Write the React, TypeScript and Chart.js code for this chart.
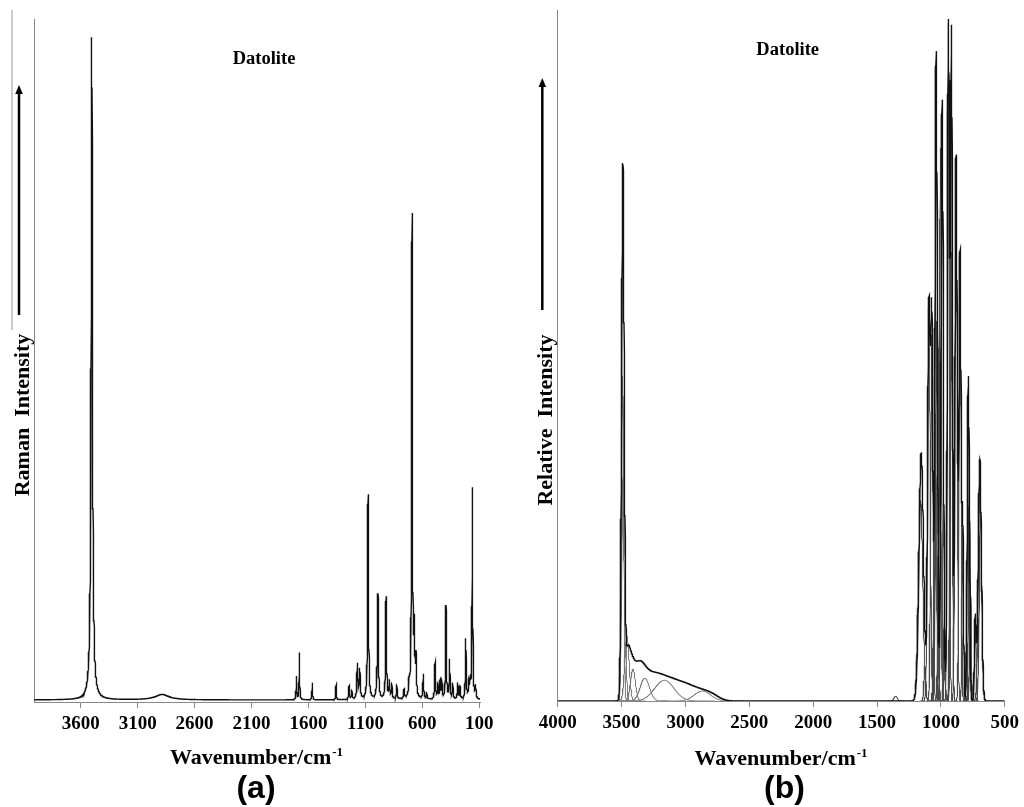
import React, { useEffect, useRef } from "react";
import { Chart, registerables } from "chart.js";

Chart.register(...registerables);

// ---------- tick labels ----------
const RAMAN_TICKS = [3600, 3100, 2600, 2100, 1600, 1100, 600, 100];
const IR_TICKS = [4000, 3500, 3000, 2500, 2000, 1500, 1000, 500];

// ---------- (a) Raman bands: centre (cm-1), height (% of full scale), FWHM (cm-1) ----------
const RAMAN_CENTERS = [3503, 2886, 1706, 1680, 1567, 1358, 1244, 1220, 1171, 1150, 1077, 1001, 990, 919, 890, 869, 825, 761, 717, 691, 671, 656, 592, 563, 489, 465, 445, 430, 393, 361, 334, 290, 270, 219, 192, 180, 161, 133];
const RAMAN_HEIGHTS = [97, 0.8, 3.4, 6.9, 2.5, 2.2, 2.0, 1.3, 5.1, 4.3, 30.0, 2.0, 15.2, 15.0, 2.5, 2.2, 2.1, 1.3, 1.8, 70.6, 9.5, 5.4, 3.6, 1.0, 5.4, 2.2, 2.6, 2.7, 13.7, 5.7, 2.2, 2.3, 1.8, 8.8, 2.3, 2.4, 30.9, 1.8];
const RAMAN_WIDTHS = [14, 150, 6, 6, 6, 6, 8, 8, 10, 10, 9, 8, 9, 9, 8, 8, 8, 8, 8, 8, 10, 8, 8, 8, 8, 8, 8, 8, 8, 8, 8, 8, 8, 8, 8, 8, 7, 8];
const RAMAN_BASELINE = 0.3;

// ---------- (b) Infrared spectrum (envelope) bands ----------
const IR_ENV_CENTERS = [3490, 3458, 3440, 3370, 3300, 3200, 3100, 3000, 2900, 2800, 1154, 1094, 1071, 1037, 990, 941, 917, 881, 850, 829, 785, 731, 695];
const IR_ENV_HEIGHTS = [76, 2.5, 5.2, 3.9, 3.0, 2.7, 2.2, 1.8, 1.25, 0.95, 36, 57, 53, 94, 87, 98, 96, 79, 65, 25, 47, 12, 35];
const IR_ENV_WIDTHS = [24, 40, 71, 106, 141, 141, 141, 141, 141, 141, 42, 24, 20, 22, 22, 20, 18, 22, 20, 14, 20, 16, 30];

// ---------- (b) fitted band components ----------
const IR_COMP_CENTERS = [3492, 3486, 3458, 3411, 3318, 3165, 2867, 1354, 1159, 1125, 1094, 1071, 1045, 1037, 1032, 1011, 1003, 990, 972, 941, 920, 917, 881, 850, 829, 804, 785, 777, 769, 731, 695, 689];
const IR_COMP_HEIGHTS = [47, 33, 9.4, 4.6, 3.3, 3.0, 1.45, 0.7, 29, 5, 57, 53, 40, 94, 55, 57, 80, 87, 13, 98, 65, 96, 79, 65, 25, 7, 47, 31, 19, 12, 35, 27];
const IR_COMP_WIDTHS = [20, 30, 40, 45, 85, 180, 150, 30, 40, 18, 24, 20, 22, 20, 22, 20, 18, 20, 14, 18, 20, 16, 20, 18, 14, 12, 18, 16, 14, 14, 28, 24];

const SERIF = '"Liberation Serif", "Times New Roman", serif';
const SANS = '"Liberation Sans", Arial, sans-serif';

function lorentz(x: number, c: number, h: number, w: number) {
  const g = w / 2;
  return (h * g * g) / ((x - c) * (x - c) + g * g);
}
function gauss(x: number, c: number, h: number, w: number) {
  return h * Math.exp((-4 * Math.LN2 * (x - c) * (x - c)) / (w * w));
}

function buildRaman() {
  const pts: { x: number; y: number }[] = [];
  for (let x = 94; x <= 4010; x += 1) {
    let y = RAMAN_BASELINE;
    for (let i = 0; i < RAMAN_CENTERS.length; i++) y += lorentz(x, RAMAN_CENTERS[i], RAMAN_HEIGHTS[i], RAMAN_WIDTHS[i]);
    pts.push({ x, y });
  }
  return pts;
}
function buildEnvelope() {
  const pts: { x: number; y: number }[] = [];
  for (let x = 500; x <= 4000; x += 1) {
    let y = 0;
    for (let i = 0; i < IR_ENV_CENTERS.length; i++) y += gauss(x, IR_ENV_CENTERS[i], IR_ENV_HEIGHTS[i], IR_ENV_WIDTHS[i]);
    pts.push({ x, y });
  }
  return pts;
}
function buildComponent(i: number) {
  const c = IR_COMP_CENTERS[i];
  const w = IR_COMP_WIDTHS[i];
  const pts: { x: number; y: number }[] = [];
  const lo = Math.max(500, Math.floor(c - 2.2 * w));
  const hi = Math.min(4000, Math.ceil(c + 2.2 * w));
  for (let x = lo; x <= hi; x += 1) pts.push({ x, y: gauss(x, c, IR_COMP_HEIGHTS[i], w) });
  return pts;
}

type Decor = {
  yTitle: string; yTitleX: number; yTitleY: number;
  arrowX: number; arrowTip: number; arrowBottom: number;
  title: string; titleX: number; titleY: number;
  xTitleX: number; xTitleY: number;
  tag: string; tagX: number; tagY: number;
  edgeLine?: { x: number; y1: number; y2: number };
};

function makeDecor(p: Decor) {
  return {
    id: "decor",
    afterDraw(chart: any) {
      const ctx: CanvasRenderingContext2D = chart.ctx;
      ctx.save();
      ctx.fillStyle = "#000";
      ctx.strokeStyle = "#000";
      if (p.edgeLine) {
        ctx.save();
        ctx.strokeStyle = "#999";
        ctx.lineWidth = 1;
        ctx.beginPath();
        ctx.moveTo(p.edgeLine.x + 0.5, p.edgeLine.y1);
        ctx.lineTo(p.edgeLine.x + 0.5, p.edgeLine.y2);
        ctx.stroke();
        ctx.restore();
      }
      // rotated y title
      ctx.save();
      ctx.translate(p.yTitleX, p.yTitleY);
      ctx.rotate(-Math.PI / 2);
      ctx.font = `bold 22px ${SERIF}`;
      ctx.textAlign = "center";
      ctx.textBaseline = "alphabetic";
      ctx.fillText(p.yTitle, 0, 0);
      ctx.restore();
      // arrow
      ctx.lineWidth = 2.5;
      ctx.beginPath();
      ctx.moveTo(p.arrowX, p.arrowBottom);
      ctx.lineTo(p.arrowX, p.arrowTip + 6);
      ctx.stroke();
      ctx.beginPath();
      ctx.moveTo(p.arrowX, p.arrowTip);
      ctx.lineTo(p.arrowX - 3.8, p.arrowTip + 9);
      ctx.lineTo(p.arrowX + 3.8, p.arrowTip + 9);
      ctx.closePath();
      ctx.fill();
      // sample name
      ctx.font = `bold 18.5px ${SERIF}`;
      ctx.textAlign = "center";
      ctx.textBaseline = "alphabetic";
      ctx.fillText(p.title, p.titleX, p.titleY);
      // x title with superscript
      ctx.font = `bold 22px ${SERIF}`;
      const main = "Wavenumber/cm";
      const sup = "-1";
      const wMain = ctx.measureText(main).width;
      ctx.font = `bold 13px ${SERIF}`;
      const wSup = ctx.measureText(sup).width;
      const left = p.xTitleX - (wMain + wSup + 1) / 2;
      ctx.textAlign = "left";
      ctx.font = `bold 22px ${SERIF}`;
      ctx.fillText(main, left, p.xTitleY);
      ctx.font = `bold 13px ${SERIF}`;
      ctx.fillText(sup, left + wMain + 1, p.xTitleY - 8);
      // panel tag
      ctx.font = `bold 32px ${SANS}`;
      ctx.textAlign = "center";
      ctx.fillText(p.tag, p.tagX, p.tagY);
      ctx.restore();
    },
  };
}

function axisOptions(min: number, max: number, ticks: number[]) {
  return {
    x: {
      type: "linear" as const,
      min,
      max,
      reverse: true,
      afterBuildTicks: (s: any) => {
        s.ticks = ticks.map((v) => ({ value: v }));
      },
      ticks: {
        autoSkip: false,
        maxRotation: 0,
        minRotation: 0,
        padding: 5,
        color: "#000",
        font: { family: SERIF, size: 19, weight: "bold" as const },
        callback: (v: any) => String(v),
      },
      grid: { display: true, drawOnChartArea: false, drawTicks: true, tickLength: 6, color: "#888", lineWidth: 1 },
      border: { display: true, color: "#888", width: 1 },
    },
    y: {
      type: "linear" as const,
      min: 0,
      max: 100,
      ticks: { display: false },
      grid: { display: false, drawTicks: false, tickLength: 0 },
      border: { display: true, color: "#888", width: 1 },
    },
  };
}

function PanelA() {
  const ref = useRef<HTMLCanvasElement | null>(null);
  useEffect(() => {
    if (!ref.current) return;
    const chart = new Chart(ref.current, {
      type: "line",
      data: {
        datasets: [
          {
            data: buildRaman(),
            borderColor: "#111",
            borderWidth: 1.4,
            pointRadius: 0,
            tension: 0,
            fill: false,
          },
        ],
      },
      options: {
        animation: false,
        responsive: false,
        devicePixelRatio: 1,
        events: [],
        parsing: false,
        normalized: true,
        layout: { padding: { left: 34, right: 20, top: 19, bottom: 66.2 } },
        plugins: { legend: { display: false }, tooltip: { enabled: false }, title: { display: false } },
        scales: axisOptions(94, 4010, RAMAN_TICKS) as any,
      },
      plugins: [
        makeDecor({
          yTitle: "Raman  Intensity", yTitleX: 28.5, yTitleY: 415,
          arrowX: 19, arrowTip: 85, arrowBottom: 315,
          title: "Datolite", titleX: 264, titleY: 64,
          xTitleX: 256.5, xTitleY: 764,
          tag: "(a)", tagX: 256, tagY: 798,
          edgeLine: { x: 11.5, y1: 10, y2: 330 },
        }),
      ],
    } as any);
    return () => chart.destroy();
  }, []);
  return (
    <canvas
      ref={ref}
      width={500}
      height={807}
      style={{ position: "absolute", left: 0, top: 0, width: 500, height: 807 }}
    />
  );
}

function PanelB() {
  const ref = useRef<HTMLCanvasElement | null>(null);
  useEffect(() => {
    if (!ref.current) return;
    const datasets: any[] = [
      {
        data: buildEnvelope(),
        borderColor: "#111",
        borderWidth: 1.4,
        pointRadius: 0,
        tension: 0,
        fill: false,
        order: 0,
      },
    ];
    for (let i = 0; i < IR_COMP_CENTERS.length; i++) {
      datasets.push({
        data: buildComponent(i),
        borderColor: IR_COMP_CENTERS[i] > 2000 ? "#777" : "#4a4a4a",
        borderWidth: 1,
        pointRadius: 0,
        tension: 0,
        fill: false,
        order: 1,
      });
    }
    const chart = new Chart(ref.current, {
      type: "line",
      data: { datasets },
      options: {
        animation: false,
        responsive: false,
        devicePixelRatio: 1,
        events: [],
        parsing: false,
        normalized: true,
        layout: { padding: { left: 57.7, right: 16.7, top: 10, bottom: 67.2 } },
        plugins: { legend: { display: false }, tooltip: { enabled: false }, title: { display: false } },
        scales: axisOptions(500, 4000, IR_TICKS) as any,
      },
      plugins: [
        makeDecor({
          yTitle: "Relative  Intensity", yTitleX: 51.7, yTitleY: 420,
          arrowX: 42.3, arrowTip: 78, arrowBottom: 310,
          title: "Datolite", titleX: 287.7, titleY: 55,
          xTitleX: 281, xTitleY: 765,
          tag: "(b)", tagX: 284.5, tagY: 798,
        }),
      ],
    } as any);
    return () => chart.destroy();
  }, []);
  return (
    <canvas
      ref={ref}
      width={524}
      height={807}
      style={{ position: "absolute", left: 500, top: 0, width: 524, height: 807 }}
    />
  );
}

export default function App() {
  return (
    <div
      style={{
        position: "absolute",
        left: 0,
        top: 0,
        width: 1024,
        height: 807,
        overflow: "hidden",
        background: "#fff",
      }}
    >
      <PanelA />
      <PanelB />
    </div>
  );
}
